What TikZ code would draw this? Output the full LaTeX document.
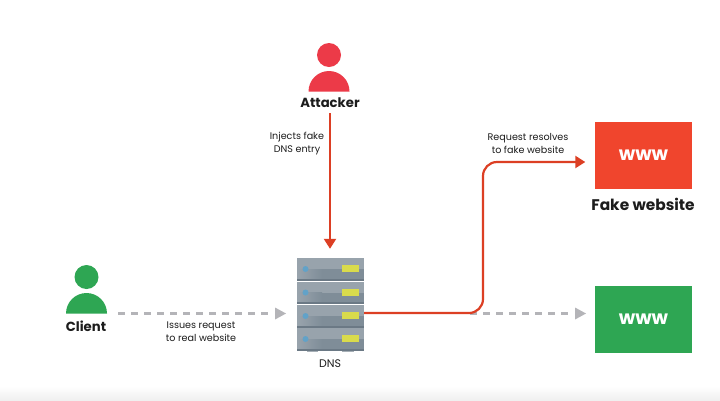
\documentclass[tikz,border=0pt]{standalone}
\usepackage{fontspec}
\setmainfont{Poppins}
\usetikzlibrary{arrows.meta,calc}
\definecolor{personred}{HTML}{EC3A48}
\definecolor{linered}{HTML}{DC3F24}
\definecolor{boxred}{HTML}{F0452D}
\definecolor{boxgreen}{HTML}{2EA653}
\definecolor{dashgrey}{HTML}{B4B4B8}
\definecolor{rack}{HTML}{98A3AC}
\definecolor{rackdark}{HTML}{7F8D98}
\definecolor{rackedge}{HTML}{6B7985}
\definecolor{led}{HTML}{D9DB4C}
\definecolor{dot}{HTML}{62A2C8}
\definecolor{ink}{HTML}{1C1C1C}
\tikzset{
  x=1pt,y=-1pt,
  small/.style={font=\fontsize{9.6}{12.7}\selectfont,align=center,text=ink,inner sep=0pt},
  heading/.style={font=\fontsize{13.2}{16}\selectfont\bfseries,text=ink,inner sep=0pt},
  bigheading/.style={font=\fontsize{15.4}{17}\selectfont\bfseries,text=ink,inner sep=0pt},
  site/.style={minimum width=97pt,minimum height=67pt,inner sep=0pt,text=white,font=\fontsize{19}{20}\selectfont\bfseries},
  redline/.style={draw=linered,line width=2.2pt},
  greyline/.style={draw=dashgrey,line width=2.4pt,dash pattern=on 6.5pt off 6.5pt},
  redtip/.style={-{Triangle[length=10pt,width=12pt]}},
}
\newcommand{\person}[3]{%
  \fill[#3] (#1,#2) circle[radius=12];
  \fill[#3] (#1-20.5,#2+36.5) arc[start angle=180,end angle=0,x radius=20.5,y radius=-20.5] -- cycle;
}
\newcommand{\rackunit}[2]{%
  \fill[rack] (297,#1) rectangle (364,#2);
  \shade[left color=rack,right color=rackdark] (298,#1+11) rectangle (322,#2-2);
  \fill[rackdark] (322,#1+11) rectangle (364,#2-2);
  \fill[rackedge] (297,#2-2) rectangle (364,#2);
  \fill[dot] (305.5,#1+11) circle[radius=3];
  \fill[led] (342,#1+7) rectangle (359,#1+14);
}
\begin{document}
\begin{tikzpicture}
\useasboundingbox (0,0) rectangle (720,400);
\fill[white] (0,0) rectangle (720,400);
\shade[top color=white,bottom color=black!6] (0,386) rectangle (720,400);

\person{329}{55}{personred}
\node[heading] (attacker) at (330,103) {Attacker};
\person{86.5}{277}{boxgreen}
\node[heading] (client) at (86,326) {Client};

\fill[rackedge!60] (307,350) rectangle (318,352);
\fill[rackedge!60] (342,350) rectangle (354,352);
\rackunit{258}{281}
\rackunit{281.5}{304}
\rackunit{305}{328}
\rackunit{328}{350.5}
\node[minimum width=67pt,minimum height=92.5pt,inner sep=0pt] (server) at (330.5,304.25) {};
\node[small,font=\fontsize{11}{13}\selectfont] (dnslabel) at (330,364) {DNS};

\node[site,fill=boxred] (fake) at (643.5,155.5) {www};
\node[bigheading] (fakelabel) at (643,204) {Fake website};
\node[site,fill=boxgreen] (real) at (643.5,319.5) {www};

\coordinate (attackstart) at (330,113);
\coordinate (clientstart) at (118,313.5);
\coordinate (clientend) at (286,313.5);
\coordinate (bend) at (470,313.5);
\coordinate (realend) at (586,313.5);

\draw[greyline] (clientstart) -- (274,313.5);
\fill[dashgrey] (clientend) -- ++(-11,-6) -- ++(0,12) -- cycle;
\draw[greyline] (bend) -- (574,313.5);
\fill[dashgrey] (realend) -- ++(-11,-6) -- ++(0,12) -- cycle;

\draw[redline,redtip,shorten >=9pt] (attackstart) -- (attackstart |- server.north);
\draw[redline,redtip,rounded corners=14pt,shorten >=9.5pt] (server.east |- 0,313) -- (483,313) -- (483,162) -- (fake.west |- 0,162);

\node[small] (l1) at (297,143.5) {Injects fake\\DNS entry};
\node[small] (l2) at (528,143.5) {Request resolves\\to fake website};
\node[small] (l3) at (201,332) {Issues request\\to real website};
\end{tikzpicture}
\end{document}
